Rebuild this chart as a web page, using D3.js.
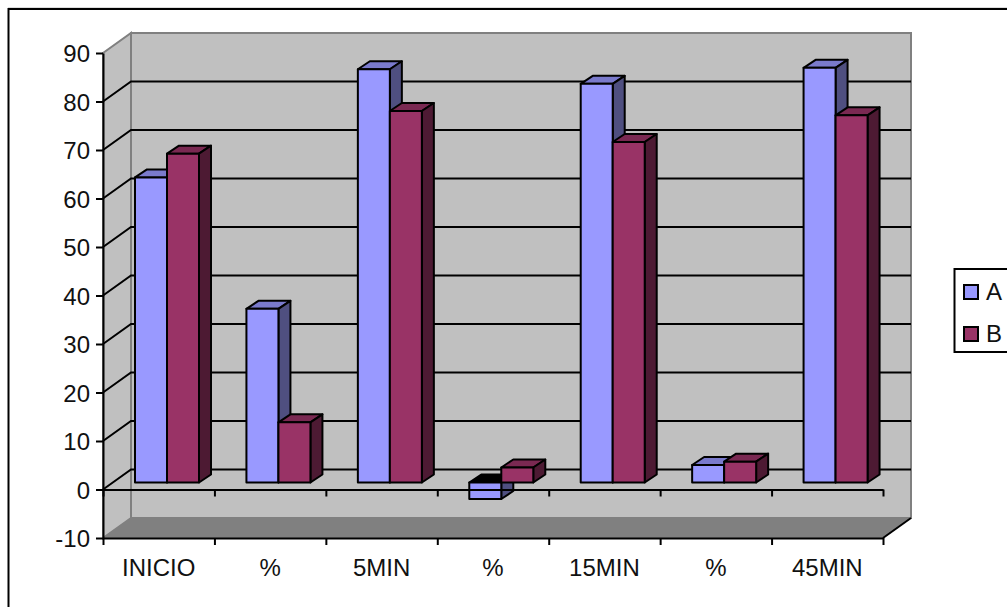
<!DOCTYPE html>
<html>
<head>
<meta charset="utf-8">
<script src="https://cdn.jsdelivr.net/npm/d3@7"></script>
<style>
body { margin: 0; background: #fff; overflow: hidden; }
text { font-family: "Liberation Sans", Arial, sans-serif; font-size: 24px; fill: #111; }
</style>
</head>
<body>
<script>
const categories = ["INICIO", "%", "5MIN", "%", "15MIN", "%", "45MIN"];
const seriesNames = ["A", "B"];
const valuesA = [62.9, 35.8, 85.2, -3.4, 82.2, 3.6, 85.5];
const valuesB = [67.8, 12.4, 76.6, 3.1, 70.2, 4.3, 75.7];
const yTicks = [-10, 0, 10, 20, 30, 40, 50, 60, 70, 80, 90];

const colors = {
	A: {front: "#9999ff", top: "#7a7acc", side: "#4f4f80"},
	B: {front: "#993366", top: "#7a2952", side: "#4d1a33"}
};

const SVGWIDTH = 1007, SVGHEIGHT = 607;
const LEFT = 103, RIGHT = 883, TOP = 53, BOTTOM = 538;
const DEPTH_X = 28, DEPTH_Y = -20;   // wall offset from the front plane
const BAR_DX = 12, BAR_DY = -8;      // depth of one bar
const BAR_LIFT = 7, BAR_INSET = 32, BAR_W = 32;

const svg = d3.select("body").append("svg").attr("width", SVGWIDTH).attr("height", SVGHEIGHT);

let yscale = d3.scaleLinear().domain([-10, 90]).range([BOTTOM, TOP]);
let xscale = d3.scaleLinear().domain([0, categories.length]).range([LEFT, RIGHT]);
let xlabels = d3.scaleBand().domain(d3.range(categories.length)).range([LEFT, RIGHT]);

// outer frame, runs off the right and bottom of the page
svg.append("rect").attr("x", 8).attr("y", 7).attr("width", SVGWIDTH).attr("height", 1).attr("fill", "#ddd");
svg.append("rect").attr("x", 8.5).attr("y", 9).attr("width", SVGWIDTH + 20).attr("height", SVGHEIGHT + 20)
	.attr("fill", "#fff").attr("stroke", "#000").attr("stroke-width", 2);

// walls
const wallL = LEFT + DEPTH_X, wallR = RIGHT + DEPTH_X;
const wallT = yscale(90) + DEPTH_Y, wallB = yscale(-10) + DEPTH_Y;
svg.append("rect").attr("x", wallL).attr("y", wallT).attr("width", wallR - wallL).attr("height", wallB - wallT)
	.attr("fill", "#c0c0c0").attr("stroke", "#808080").attr("stroke-width", 2);
svg.append("polygon")
	.attr("points", [[LEFT, yscale(90)], [wallL, wallT], [wallL, wallB], [LEFT, yscale(-10)]].join(" "))
	.attr("fill", "#c0c0c0").attr("stroke", "#808080").attr("stroke-width", 2);
svg.append("polygon")
	.attr("points", [[LEFT, yscale(-10)], [wallL, wallB], [wallR, wallB], [RIGHT, yscale(-10)]].join(" "))
	.attr("fill", "#808080");

// gridlines
let grid = svg.append("g").attr("stroke", "#000").attr("stroke-width", 2).attr("fill", "none");
grid.selectAll("path")
	.data(yTicks.filter(d => d > -10 && d < 90))
	.join("path")
	.attr("d", d => `M${LEFT},${yscale(d)}L${wallL},${yscale(d) + DEPTH_Y}L${wallR},${yscale(d) + DEPTH_Y}`);
svg.append("line").attr("x1", RIGHT).attr("y1", yscale(-10)).attr("x2", wallR).attr("y2", wallB)
	.attr("stroke", "#000").attr("stroke-width", 2);

// bars, A first so that B sits over its side
const barsData = [];
categories.forEach((c, i) => {
	barsData.push({i: i, s: 0, name: "A", value: valuesA[i]});
	barsData.push({i: i, s: 1, name: "B", value: valuesB[i]});
});

let bars = svg.append("g").attr("stroke", "#000").attr("stroke-width", 2).attr("stroke-linejoin", "round")
	.selectAll("g").data(barsData).join("g");

const barX = d => xscale(d.i) + BAR_INSET + d.s * BAR_W;
const barY0 = d => Math.min(yscale(d.value), yscale(0)) - BAR_LIFT;
const barY1 = d => Math.max(yscale(d.value), yscale(0)) - BAR_LIFT;

bars.append("polygon")
	.attr("fill", d => d.value < 0 ? "#000" : colors[d.name].top)
	.attr("points", d => [[barX(d), barY0(d)], [barX(d) + BAR_DX, barY0(d) + BAR_DY],
		[barX(d) + BAR_W + BAR_DX, barY0(d) + BAR_DY], [barX(d) + BAR_W, barY0(d)]].join(" "));
bars.append("polygon")
	.attr("fill", d => colors[d.name].side)
	.attr("points", d => [[barX(d) + BAR_W, barY0(d)], [barX(d) + BAR_W + BAR_DX, barY0(d) + BAR_DY],
		[barX(d) + BAR_W + BAR_DX, barY1(d) + BAR_DY], [barX(d) + BAR_W, barY1(d)]].join(" "));
bars.append("rect")
	.attr("fill", d => colors[d.name].front)
	.attr("x", barX).attr("y", barY0).attr("width", BAR_W).attr("height", d => barY1(d) - barY0(d));

// zero line with its ticks, it runs over the negative bar
let zeroAxis = d3.axisBottom(xscale).tickValues(d3.range(categories.length + 1)).tickSize(7).tickSizeOuter(0).tickFormat("");
svg.append("g").attr("class", "axis").attr("transform", `translate(0,${yscale(0)})`).call(zeroAxis);

// lower axis, ticks between the categories
let xaxis = d3.axisBottom(xscale).tickValues(d3.range(categories.length + 1)).tickSize(7).tickSizeOuter(0).tickFormat("");
svg.append("g").attr("class", "axis").attr("transform", `translate(0,${BOTTOM})`).call(xaxis);

let xLabelAxis = d3.axisBottom(xlabels).tickSize(0).tickPadding(21).tickFormat(i => categories[i]);
let xl = svg.append("g").attr("transform", `translate(0,${BOTTOM})`).call(xLabelAxis);
xl.select(".domain").remove();

let yaxis = d3.axisLeft(yscale).tickValues(yTicks).tickSize(7).tickSizeOuter(0).tickPadding(6).tickFormat(d => String(d));
let yg = svg.append("g").attr("class", "axis").attr("transform", `translate(${LEFT},0)`).call(yaxis);
yg.selectAll("text").attr("dy", "0.36em");

svg.selectAll(".axis path, .axis line").attr("stroke", "#000").attr("stroke-width", 2);
svg.selectAll("text").attr("font-size", null).attr("font-family", null);
svg.selectAll("g").attr("font-size", null).attr("font-family", null);

// legend
let legend = svg.append("g");
legend.append("rect").attr("x", 954.5).attr("y", 269).attr("width", 80).attr("height", 83)
	.attr("fill", "#fff").attr("stroke", "#000").attr("stroke-width", 2);
let legendScale = d3.scalePoint().domain(seriesNames).range([292, 334]);
let items = legend.selectAll("g").data(seriesNames).join("g")
	.attr("transform", d => `translate(964,${legendScale(d)})`);
items.append("rect").attr("y", -7).attr("width", 14).attr("height", 14)
	.attr("fill", d => colors[d].front).attr("stroke", "#000").attr("stroke-width", 2);
items.append("text").attr("x", 22).attr("y", 8).text(d => d);
</script>
</body>
</html>
